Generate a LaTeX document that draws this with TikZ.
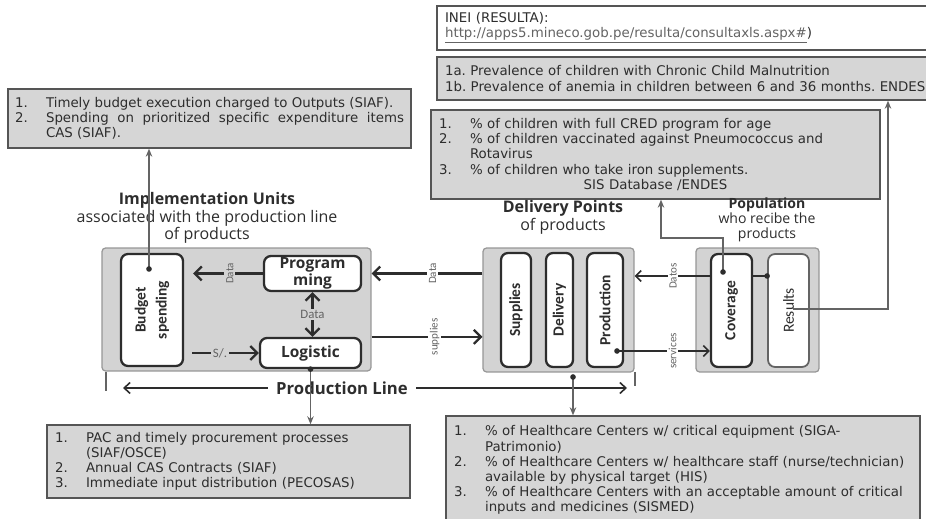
\documentclass[tikz,border=0pt]{standalone}
\usepackage{fontspec}
\setmainfont{DejaVu Sans}
\newfontfamily\osans{Open Sans}
\newfontfamily\carl{Carlito}
\usetikzlibrary{arrows.meta,positioning}
\frenchspacing

\definecolor{listfill}{RGB}{214,214,214}
\definecolor{listedge}{RGB}{85,85,85}
\definecolor{grpfill}{RGB}{211,211,211}
\definecolor{grpedge}{RGB}{150,150,150}
\definecolor{ink}{RGB}{45,45,45}
\definecolor{soft}{RGB}{100,100,100}

\newlength\hangw
\setlength\hangw{0.62cm}
\newcommand\li[2]{\hangindent=\hangw\hangafter=1\noindent\makebox[\hangw][l]{#1}#2\par}

\tikzset{
  listbox/.style={draw=listedge, line width=0.8pt, fill=listfill, inner xsep=0.16cm, inner ysep=0pt,
    text=ink, font=\fontsize{7.6}{8.6}\selectfont, align=left},
  grpbox/.style={draw=grpedge, line width=0.7pt, fill=grpfill, rounded corners=2pt, inner sep=0pt},
  unit/.style={draw=ink, line width=1.3pt, fill=white, rounded corners=4pt, inner sep=0pt},
  htext/.style={text=ink, align=center, font=\osans\bfseries\fontsize{8.8}{9.8}\selectfont},
  vtext/.style={rotate=90, text=ink, align=center, font=\carl\bfseries\fontsize{8.8}{12}\selectfont},
  title/.style={text=ink, align=center, font=\osans\fontsize{9.1}{10}\selectfont},
  lbl/.style={rotate=90, text=soft, inner sep=1pt, font=\carl\fontsize{6.3}{7}\selectfont},
  hlbl/.style={text=soft, inner sep=1pt, font=\carl\fontsize{7.3}{8}\selectfont},
  flow/.style={draw=ink, line width=1.3pt, >={Straight Barb[length=1.4mm,width=2.8mm]}, ->},
  thinflow/.style={draw=ink, line width=0.9pt, >={Straight Barb[length=1.1mm,width=2.2mm]}, ->},
  link/.style={draw=soft, line width=0.7pt, -{Stealth[length=1.6mm,width=1.3mm]}},
  pline/.style={draw=ink, line width=0.9pt, -{Straight Barb[length=1.2mm,width=2.2mm]}}
}

\begin{document}
\begin{tikzpicture}[x=0.02cm,y=-0.02cm]
  \useasboundingbox (0,0) rectangle (926,519); %枠

  % 指標
  \node[listbox,align=justify,text width=7.78cm,inner xsep=0.14cm,minimum height=1.18cm] (kpibudget) at (209.5,118.5)
    {\li{1.}{Timely budget execution charged to Outputs (SIAF).}
     \li{2.}{Spending on prioritized specific expenditure items\linebreak CAS (SIAF).}};
  \node[listbox,fill=white,text width=9.8cm,minimum height=0.88cm] (kpiinei) at (690,28)
    {INEI (RESULTA):\\{\color{soft}\underline{http://apps5.mineco.gob.pe/resulta/consultaxls.aspx\#}})};
  \node[listbox,text width=9.8cm,minimum height=0.86cm] (kpiresult) at (690,78.5)
    {1a. Prevalence of children with Chronic Child Malnutrition\\1b. Prevalence of anemia in children between 6 and 36 months. ENDES};
  \node[listbox,text width=8.66cm,minimum height=1.78cm] (kpicover) at (655.5,154.5)
    {\li{1.}{\% of children with full CRED program for age}
     \li{2.}{\% of children vaccinated against Pneumococcus and\newline Rotavirus}
     \li{3.}{\% of children who take iron supplements.}
     \noindent\makebox[\linewidth]{SIS Database /ENDES}};
  \node[listbox,text width=6.94cm,minimum height=1.46cm] (kpilogi) at (228.5,461.5)
    {\li{1.}{PAC and timely procurement processes\newline (SIAF/OSCE)}
     \li{2.}{Annual CAS Contracts (SIAF)}
     \li{3.}{Immediate input distribution (PECOSAS)}};
  \node[listbox,text width=9.16cm,minimum height=2.16cm] (kpiprod) at (683,470)
    {\li{1.}{\% of Healthcare Centers w/ critical equipment (SIGA-\newline Patrimonio)}
     \li{2.}{\% of Healthcare Centers w/ healthcare staff (nurse/technician)\newline available by physical target (HIS)}
     \li{3.}{\% of Healthcare Centers with an acceptable amount of critical\newline inputs and medicines (SISMED)}};

  % 見出し
  \node[title] (impltitle) at (207,218) {{\bfseries Implementation Units}\\associated with the production line\\of products};
  \node[title] (deltitle) at (563,217.5) {{\bfseries Delivery Points}\\of products};
  \node[title,font=\osans\fontsize{8}{8.6}\selectfont] (poptitle) at (767,220) {{\bfseries Population}\\who recibe the\\products};

  % 実施単位
  \node[grpbox,minimum width=5.38cm,minimum height=2.46cm] (implbox) at (236.5,309.5) {};
  \node[unit,minimum width=1.24cm,minimum height=2.24cm] (budget) at (152,310) {};
  \node[vtext] (budgettxt) at (budget) {Budget\\spending};
  \node[unit,htext,minimum width=1.94cm,minimum height=0.7cm] (prog) at (312.5,273.5) {Program\\ming};
  \node[unit,htext,minimum width=2.02cm,minimum height=0.6cm] (logi) at (310.5,353) {Logistic};

  % 提供拠点
  \node[grpbox,minimum width=3.02cm,minimum height=2.48cm] (delbox) at (558.5,310) {};
  \foreach \n/\x/\w/\t in {supp/516/0.6/Supplies,deliv/559.5/0.54/Delivery,prod/605/0.72/Production}{
    \node[unit,minimum width=\w cm,minimum height=2.28cm] (\n) at (\x,310) {};
    \node[vtext] (\n txt) at (\n) {\t};
  }

  % 住民
  \node[grpbox,minimum width=2.46cm,minimum height=2.48cm] (popbox) at (757.5,310) {};
  \node[unit,minimum width=0.82cm,minimum height=2.26cm] (cov) at (731.5,310.5) {};
  \node[vtext] (covtxt) at (cov) {Coverage};
  \node[unit,draw=soft,line width=1pt,minimum width=0.82cm,minimum height=2.26cm] (res) at (788.5,310.5) {};
  \node[vtext,font=\carl\fontsize{8.8}{10}\selectfont] (restxt) at (res) {Results};

  \coordinate (budgetdot) at (149,269); %予算
  \coordinate (deldot) at (573,377); %拠点
  \coordinate (proddot) at (617,351); %生産
  \coordinate (covdot) at (723,272); %カバー率
  \coordinate (covbend) at (661,238);
  \coordinate (resin) at (793,309); %結果
  \coordinate (resbend) at (888,309);
  \coordinate (datosy) at (700,276);
  \coordinate (resdot) at (datosy -| res.west);

  % 流れ
  \draw[flow,shorten >=0.18cm] (prog.west) -- node[lbl,fill=grpfill,pos=0.42]{Data} (prog.west -| budget.east);
  \draw[flow,shorten <=0.16cm] (logi.west -| budget.east) -- node[hlbl,fill=grpfill,pos=0.48]{S/.} (logi.west);
  \draw[flow,<->] (prog.south) -- node[hlbl,fill=grpfill]{Data} (prog.south |- logi.north);
  \draw[flow] (prog.west -| delbox.west) -- node[lbl,fill=white,pos=0.45]{Data} (prog.west -| implbox.east);
  \draw[flow] (logi.north -| implbox.east) -- node[lbl,fill=white,pos=0.57]{supplies} (logi.north -| delbox.west);
  \draw[thinflow] (datosy -| cov.west) -- node[lbl,fill=white,pos=0.49]{Datos} (datosy -| delbox.east);
  \draw[thinflow] (proddot) -- node[lbl,fill=white,pos=0.6]{services} (proddot -| cov.west);
  \draw[ink,line width=0.9pt] (datosy -| cov.east) -- (resdot);

  % 生産ライン
  \node[text=ink,inner xsep=0.16cm,font=\osans\bfseries\fontsize{9.5}{10}\selectfont] (prodline) at (342,388) {Production Line};
  \coordinate (plL) at (123,388);
  \coordinate (plR) at (627,388);
  \draw[pline] (prodline.west) -- (plL);
  \draw[pline] (prodline.east) -- (plR);
  \draw[soft,line width=0.6pt] (106,372) -- (106,391); %左端
  \draw[soft,line width=0.6pt] (635,372) -- (635,386); %右端

  % 指標へ
  \draw[link] (budgetdot) -- (budgetdot |- kpibudget.south);
  \draw[link] (logi.south) -- (logi.south |- kpilogi.north);
  \draw[link] (deldot) -- (deldot |- kpiprod.north);
  \draw[link] (covdot) |- (covbend) -- (covbend |- kpicover.south);
  \draw[link] (resin) -- (resbend) -- (resbend |- kpiresult.south);

  \foreach \P in {budgetdot,logi.south,deldot,proddot,covdot,resdot} \fill[ink] (\P) circle (1.6pt); %黒丸
\end{tikzpicture}
\end{document}
